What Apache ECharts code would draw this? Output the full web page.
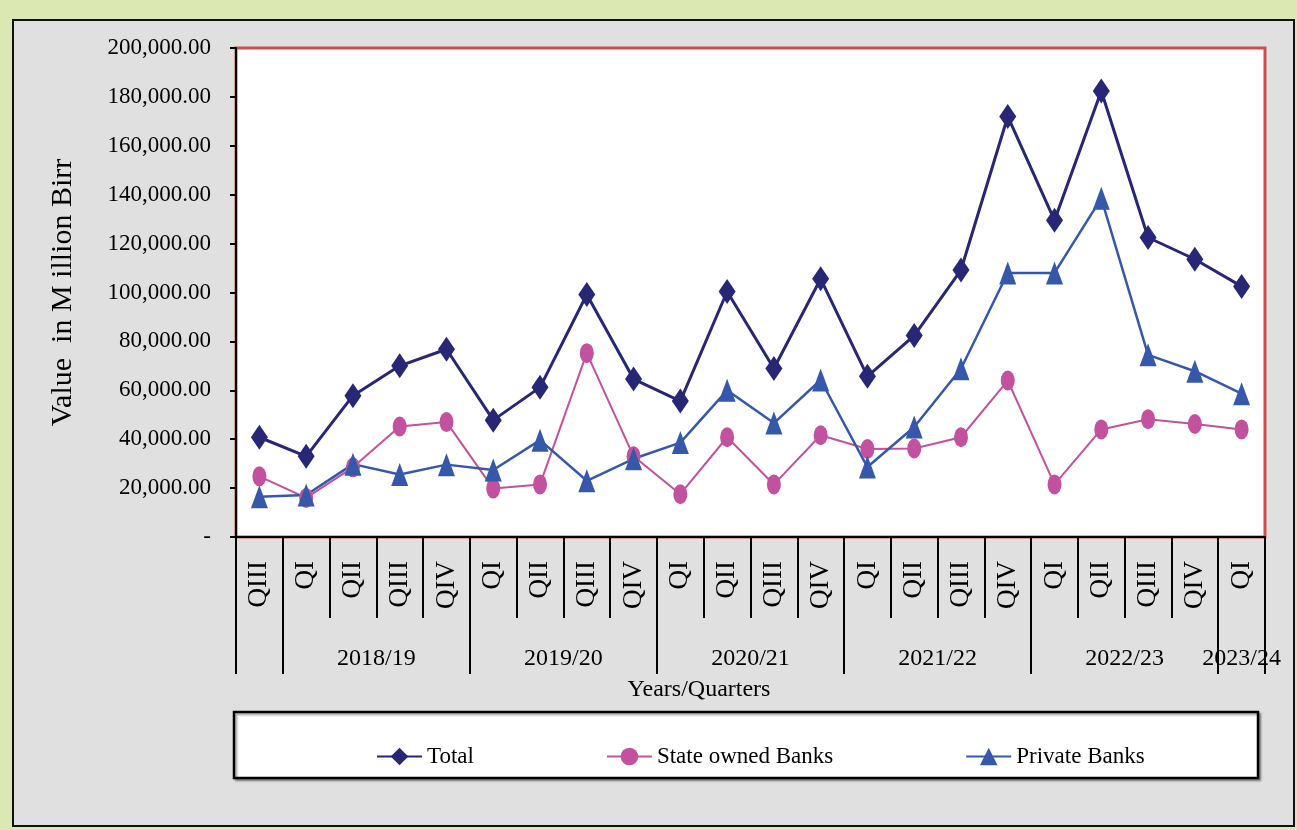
<!DOCTYPE html>
<html>
<head>
<meta charset="utf-8">
<script src="https://cdn.jsdelivr.net/npm/echarts@6.0.0/dist/echarts.min.js"></script>
<style>
  html, body { margin:0; padding:0; width:1297px; height:830px; background:#dce8b2; overflow:hidden; }
  #panel { position:absolute; left:12px; top:19px; width:1283px; height:808px; box-sizing:border-box;
           background:#e0e0e0; border:2px solid #111; }
  #chart { position:absolute; left:0; top:0; width:1297px; height:830px; }
</style>
</head>
<body>
<div id="panel"></div>
<div id="chart"></div>
<script>
// ---- data ----
const quarters = ['QIII','QI','QII','QIII','QIV','QI','QII','QIII','QIV','QI','QII','QIII','QIV','QI','QII','QIII','QIV','QI','QII','QIII','QIV','QI'];
const yearNames = ['', '2018/19', '2019/20', '2020/21', '2021/22', '2022/23', '2023/24'];
const yearSpans = [1, 4, 4, 4, 4, 4, 1];
const total   = [40800, 33000, 57800, 70000, 76800, 47800, 61200, 99200, 64600, 55600, 100400, 68900, 105600, 65700, 82400, 109200, 172000, 129500, 182400, 122500, 113600, 102500];
const stateOwned = [24800, 16000, 28500, 45200, 47000, 19800, 21500, 75200, 33000, 17500, 40800, 21500, 41600, 36000, 36200, 40800, 64000, 21500, 44000, 48200, 46200, 44000];
const privateBanks = [16500, 17200, 29800, 25600, 29600, 27400, 39600, 23000, 32000, 38600, 60000, 46600, 64200, 28600, 45000, 68800, 108000, 108000, 138500, 74500, 67800, 58600];
const seriesNames = ['Total', 'State owned Banks', 'Private Banks'];
const yMin = 0, yMax = 200000, yStep = 20000;

// ---- derived year-group positions (in category units) ----
const bounds = [0];
yearSpans.forEach(s => bounds.push(bounds[bounds.length - 1] + s));
const centers = [], centerNames = {};
yearNames.forEach((n, i) => {
  if (n) { const c = (bounds[i] + bounds[i + 1]) / 2; centers.push(c); centerNames[c] = n; }
});

const FONT = "'Liberation Serif','Times New Roman',serif";
const chart = echarts.init(document.getElementById('chart'), null, { renderer: 'canvas' });

const option = {
  backgroundColor: 'transparent',
  animation: false,
  grid: {
    left: 236, right: 32, top: 48, bottom: 293,
    show: true, backgroundColor: '#ffffff', borderColor: '#c8504e', borderWidth: 3
  },
  legend: {
    data: seriesNames,
    left: 371, top: 740,
    itemGap: 132, itemWidth: 45, itemHeight: 22,
    textStyle: { fontFamily: FONT, fontSize: 23, color: '#000' }
  },
  xAxis: [
    {
      type: 'category', data: quarters, boundaryGap: true,
      axisLine: { show: true, lineStyle: { color: '#000', width: 2 } },
      axisTick: { show: true, length: 81, lineStyle: { color: '#000', width: 2 } },
      axisLabel: { interval: 0, rotate: 90, margin: 24, fontFamily: FONT, fontSize: 27, color: '#000' },
      splitLine: { show: false }
    },
    {
      type: 'value', min: 0, max: quarters.length, position: 'bottom',
      axisLine: { show: false },
      splitLine: { show: false },
      axisTick: { show: true, customValues: bounds, length: 137, lineStyle: { color: '#000', width: 2 } },
      axisLabel: {
        customValues: centers, margin: 110, fontFamily: FONT, fontSize: 24, color: '#000',
        formatter: v => centerNames[v] || ''
      }
    }
  ],
  yAxis: {
    type: 'value', min: yMin, max: yMax, interval: yStep,
    name: 'Value  in M illion Birr', nameLocation: 'middle', nameGap: 158, nameRotate: 90,
    nameTextStyle: { fontFamily: FONT, fontSize: 30, color: '#000' },
    axisLine: { show: true, lineStyle: { color: '#000', width: 2 } },
    axisTick: { show: true, length: 6, lineStyle: { color: '#000', width: 2 } },
    axisLabel: {
      margin: 25, fontFamily: FONT, fontSize: 23, color: '#000',
      formatter: v => v === 0 ? '-' : v.toLocaleString('en-US', { minimumFractionDigits: 2, maximumFractionDigits: 2 })
    },
    splitLine: { show: false }
  },
  graphic: [
    {
      type: 'rect', shape: { x: 234, y: 712, width: 1024, height: 66 },
      style: { fill: '#ffffff', stroke: '#000', lineWidth: 2.5, shadowColor: 'rgba(0,0,0,0.35)', shadowOffsetX: 2, shadowOffsetY: 2, shadowBlur: 2 }
    },
    {
      type: 'text', x: 699, y: 690,
      style: { text: 'Years/Quarters', font: "24px 'Liberation Serif','Times New Roman',serif", fill: '#000', align: 'center', verticalAlign: 'middle' }
    }
  ],
  series: [
    {
      name: seriesNames[0], type: 'line', data: total, xAxisIndex: 0,
      symbol: 'diamond', symbolSize: [17, 25],
      lineStyle: { color: '#272775', width: 3 }, itemStyle: { color: '#272775' }
    },
    {
      name: seriesNames[1], type: 'line', data: stateOwned, xAxisIndex: 0,
      symbol: 'circle', symbolSize: [14, 20],
      lineStyle: { color: '#c2519f', width: 2 }, itemStyle: { color: '#c2519f' }
    },
    {
      name: seriesNames[2], type: 'line', data: privateBanks, xAxisIndex: 0,
      symbol: 'triangle', symbolSize: [17, 23],
      lineStyle: { color: '#3558ab', width: 2.5 }, itemStyle: { color: '#3558ab' }
    }
  ]
};
chart.setOption(option);
</script>
</body>
</html>
